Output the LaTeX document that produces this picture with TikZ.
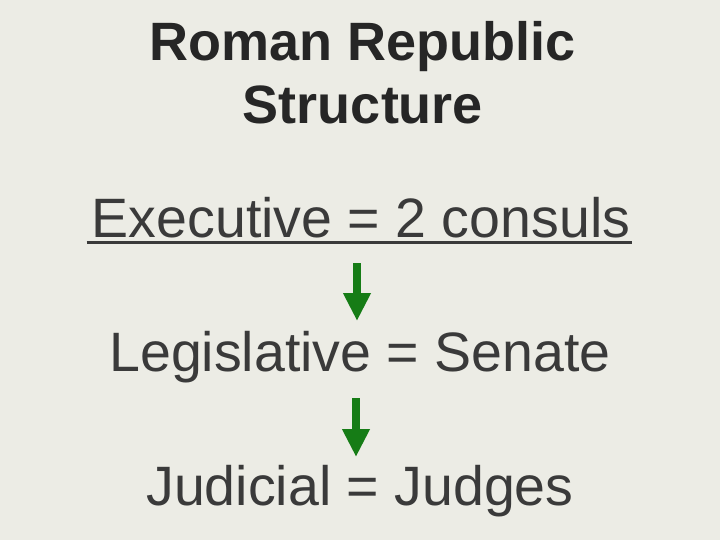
\documentclass[tikz,border=0pt]{standalone}
\usepackage{fontspec}
\setmainfont{Liberation Sans}
\usetikzlibrary{arrows.meta}
\definecolor{bgcol}{RGB}{236,236,229}
\definecolor{titlecol}{RGB}{38,38,38}
\definecolor{bodycol}{RGB}{58,58,58}
\definecolor{arrowgreen}{RGB}{22,124,22}
\tikzset{
  titletext/.style={anchor=base, inner sep=0pt, text=titlecol, font=\fontsize{54}{63}\selectfont\bfseries, align=center},
  bodytext/.style={anchor=base, inner sep=0pt, text=bodycol, font=\fontsize{55.5}{66}\selectfont},
  downarrow/.style={draw=arrowgreen, line width=7.5pt, -{Triangle[width=26pt,length=28pt]}, arrowgreen},
}
\begin{document}
\begin{tikzpicture}[x=1pt,y=1pt]
\fill[bgcol] (0,0) rectangle (720,-540);
\useasboundingbox (0,0) rectangle (720,-540);
\node[titletext] (t1) at (363,-61) {Roman Republic};
\node[titletext] (t2) at (363,-124) {Structure};
\node[bodytext] (exec) at (361,-237) {Executive = 2 consuls};
\draw[bodycol, line width=3.5pt] ([xshift=-5pt,yshift=-5.5pt]exec.base west) -- ([xshift=2pt,yshift=-5.5pt]exec.base east);
\node[bodytext] (leg) at (360,-371) {Legislative = Senate};
\node[bodytext] (jud) at (360,-505) {Judicial = Judges};
\coordinate (a1s) at (357,-263);
\coordinate (a1e) at (357,-321);
\coordinate (a2s) at (356,-398);
\coordinate (a2e) at (356,-457);
\draw[downarrow] (a1s) -- (a1e);
\draw[downarrow] (a2s) -- (a2e);
\end{tikzpicture}
\end{document}
